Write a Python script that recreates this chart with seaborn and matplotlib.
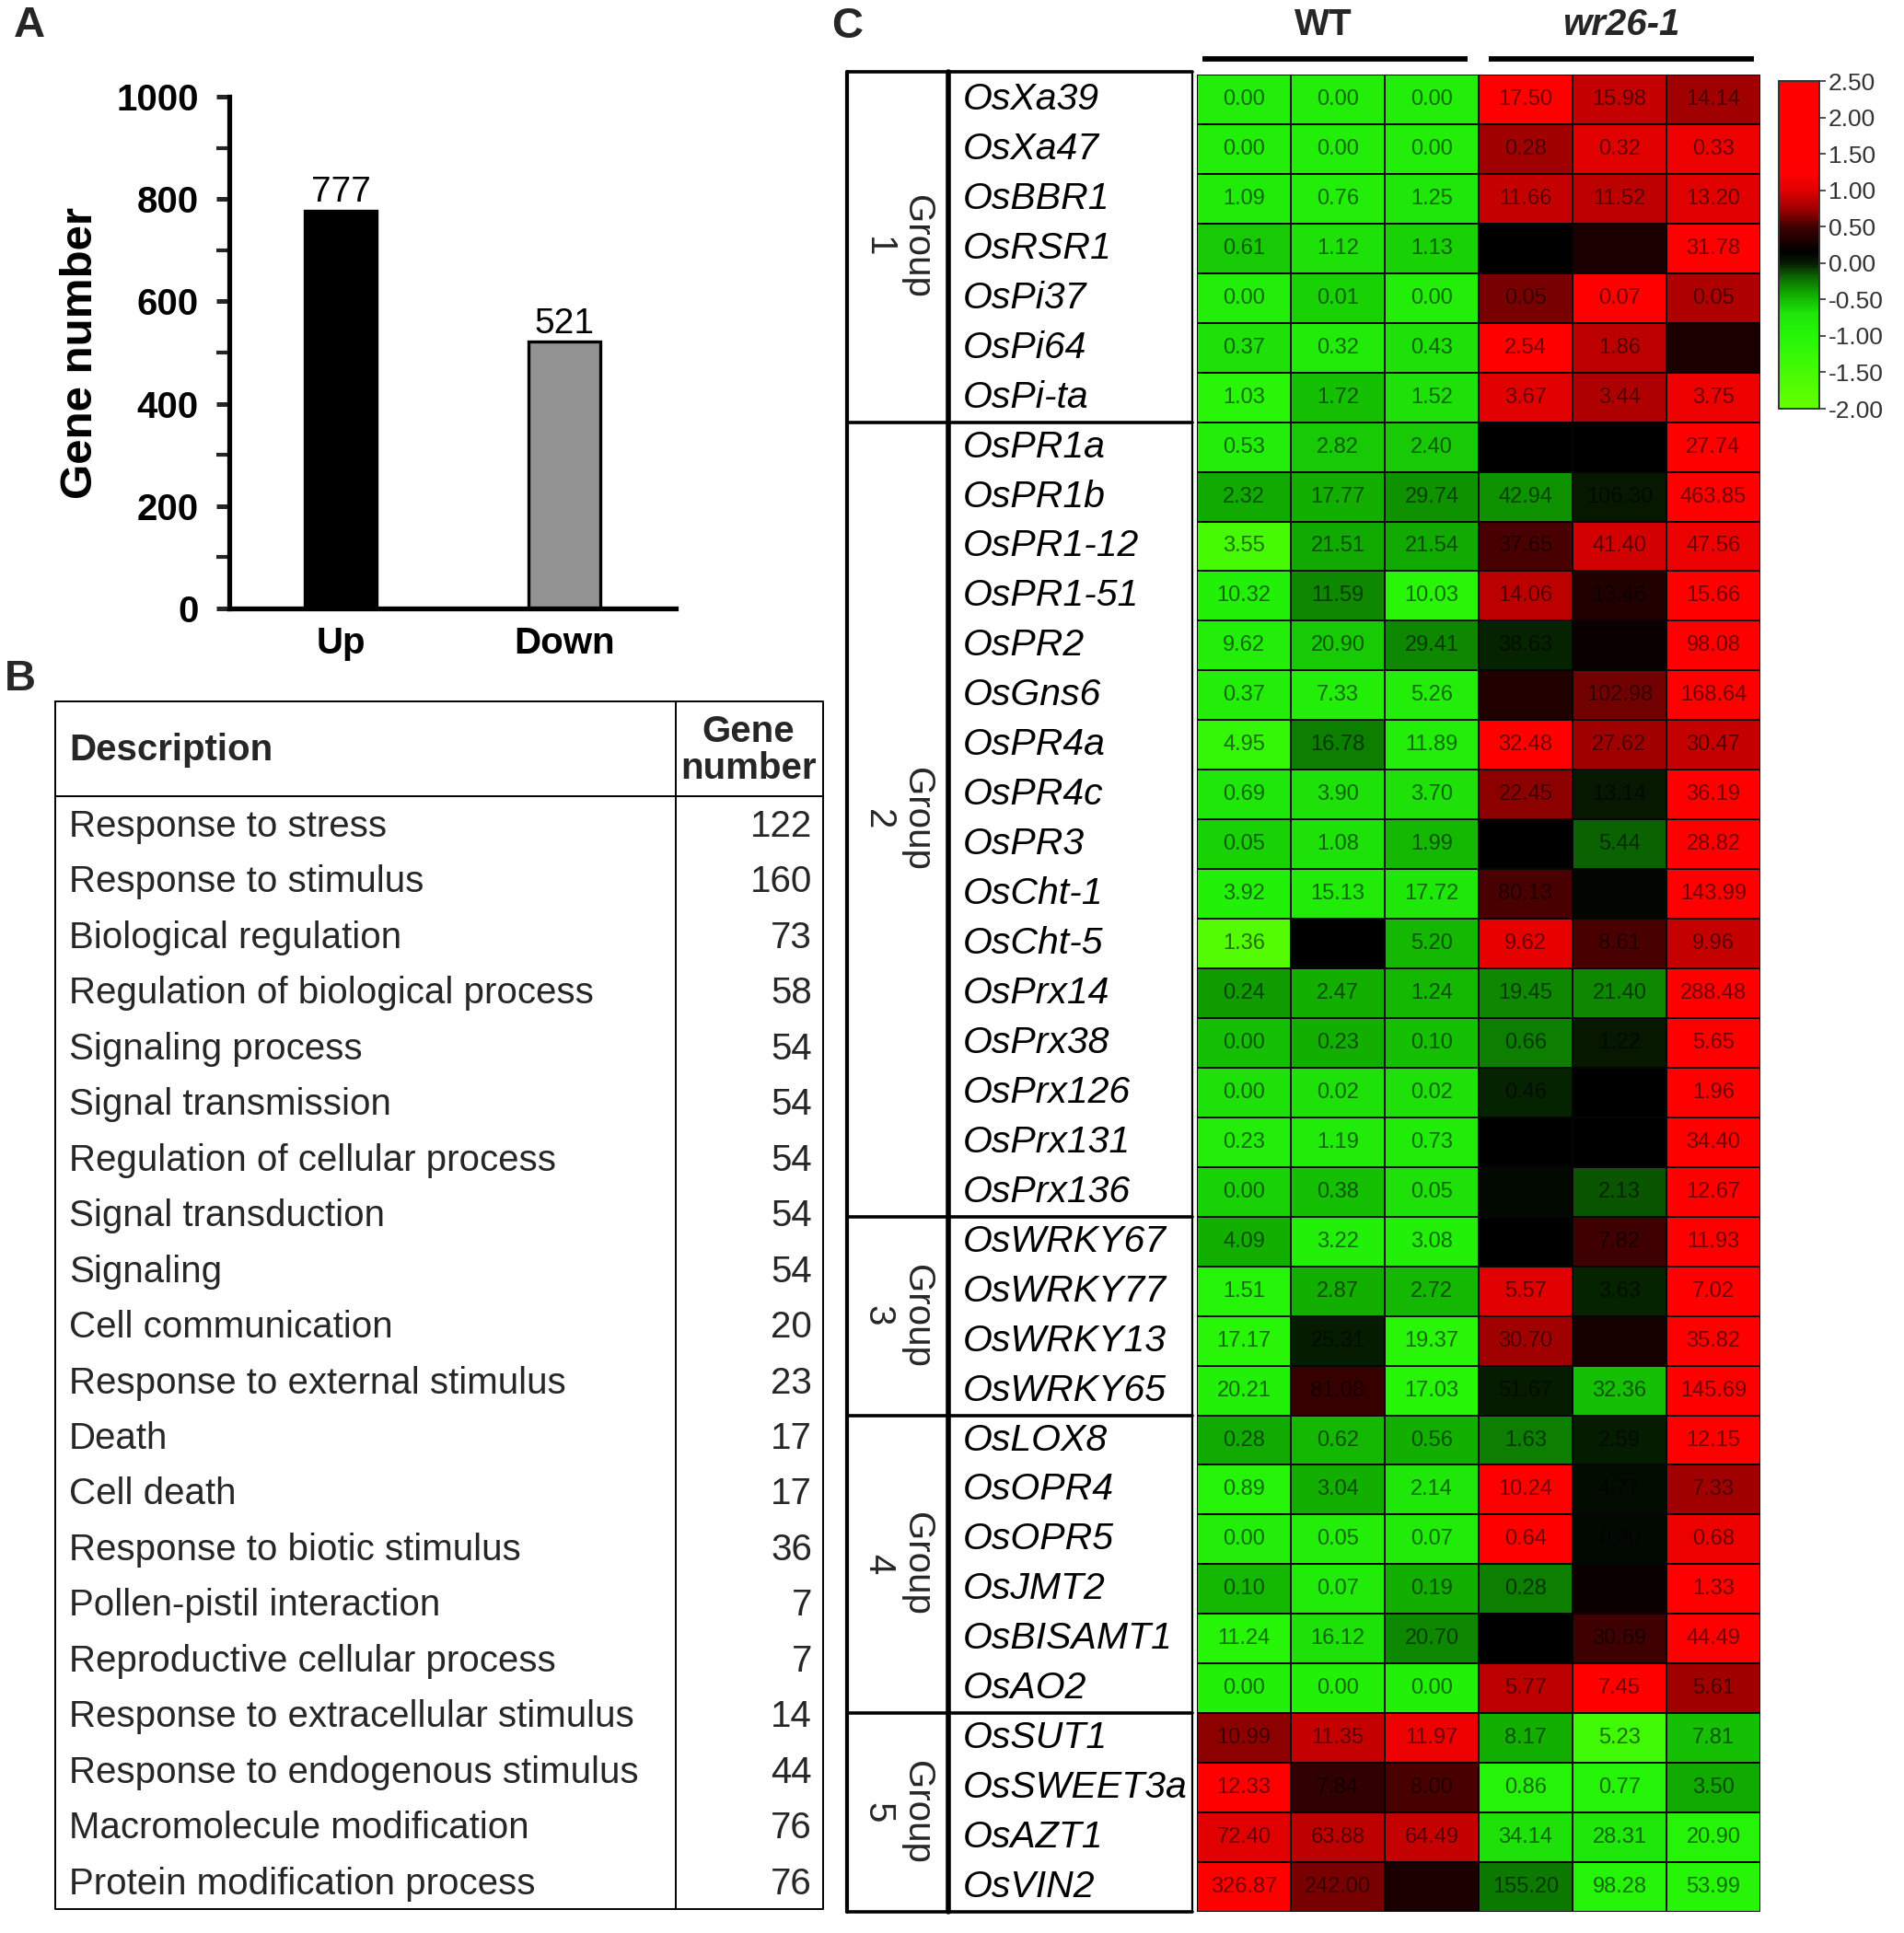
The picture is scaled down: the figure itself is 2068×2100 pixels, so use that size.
import numpy as np
import pandas as pd
import matplotlib.pyplot as plt
from matplotlib.colors import LinearSegmentedColormap
import seaborn as sns

W, H = 2068, 2100

# panel A
direction = ['Up', 'Down']
gene_count = [777, 521]

# panel B
descriptions = ['Response to stress', 'Response to stimulus', 'Biological regulation',
                'Regulation of biological process', 'Signaling process', 'Signal transmission',
                'Regulation of cellular process', 'Signal transduction', 'Signaling',
                'Cell communication', 'Response to external stimulus', 'Death', 'Cell death',
                'Response to biotic stimulus', 'Pollen-pistil interaction',
                'Reproductive cellular process', 'Response to extracellular stimulus',
                'Response to endogenous stimulus', 'Macromolecule modification',
                'Protein modification process']
desc_counts = [122, 160, 73, 58, 54, 54, 54, 54, 54, 20, 23, 17, 17, 36, 7, 7, 14, 44, 76, 76]

# panel C
genes = ['OsXa39', 'OsXa47', 'OsBBR1', 'OsRSR1', 'OsPi37', 'OsPi64', 'OsPi-ta',
         'OsPR1a', 'OsPR1b', 'OsPR1-12', 'OsPR1-51', 'OsPR2', 'OsGns6', 'OsPR4a', 'OsPR4c',
         'OsPR3', 'OsCht-1', 'OsCht-5', 'OsPrx14', 'OsPrx38', 'OsPrx126', 'OsPrx131', 'OsPrx136',
         'OsWRKY67', 'OsWRKY77', 'OsWRKY13', 'OsWRKY65',
         'OsLOX8', 'OsOPR4', 'OsOPR5', 'OsJMT2', 'OsBISAMT1', 'OsAO2',
         'OsSUT1', 'OsSWEET3a', 'OsAZT1', 'OsVIN2']
group_sizes = [7, 16, 4, 6, 4]

# printed expression values, '' where the cell is too dark to read
expr_labels = [
    ['0.00', '0.00', '0.00', '17.50', '15.98', '14.14'],
    ['0.00', '0.00', '0.00', '0.28', '0.32', '0.33'],
    ['1.09', '0.76', '1.25', '11.66', '11.52', '13.20'],
    ['0.61', '1.12', '1.13', '', '', '31.78'],
    ['0.00', '0.01', '0.00', '0.05', '0.07', '0.05'],
    ['0.37', '0.32', '0.43', '2.54', '1.86', ''],
    ['1.03', '1.72', '1.52', '3.67', '3.44', '3.75'],
    ['0.53', '2.82', '2.40', '', '', '27.74'],
    ['2.32', '17.77', '29.74', '42.94', '106.30', '463.85'],
    ['3.55', '21.51', '21.54', '37.65', '41.40', '47.56'],
    ['10.32', '11.59', '10.03', '14.06', '13.46', '15.66'],
    ['9.62', '20.90', '29.41', '38.63', '', '98.08'],
    ['0.37', '7.33', '5.26', '', '102.98', '168.64'],
    ['4.95', '16.78', '11.89', '32.48', '27.62', '30.47'],
    ['0.69', '3.90', '3.70', '22.45', '13.14', '36.19'],
    ['0.05', '1.08', '1.99', '', '5.44', '28.82'],
    ['3.92', '15.13', '17.72', '80.13', '', '143.99'],
    ['1.36', '', '5.20', '9.62', '8.61', '9.96'],
    ['0.24', '2.47', '1.24', '19.45', '21.40', '288.48'],
    ['0.00', '0.23', '0.10', '0.66', '1.22', '5.65'],
    ['0.00', '0.02', '0.02', '0.46', '', '1.96'],
    ['0.23', '1.19', '0.73', '', '', '34.40'],
    ['0.00', '0.38', '0.05', '', '2.13', '12.67'],
    ['4.09', '3.22', '3.08', '', '7.82', '11.93'],
    ['1.51', '2.87', '2.72', '5.57', '3.63', '7.02'],
    ['17.17', '25.31', '19.37', '30.70', '', '35.82'],
    ['20.21', '81.08', '17.03', '51.67', '32.36', '145.69'],
    ['0.28', '0.62', '0.56', '1.63', '2.59', '12.15'],
    ['0.89', '3.04', '2.14', '10.24', '4.77', '7.33'],
    ['0.00', '0.05', '0.07', '0.64', '0.30', '0.68'],
    ['0.10', '0.07', '0.19', '0.28', '', '1.33'],
    ['11.24', '16.12', '20.70', '', '30.69', '44.49'],
    ['0.00', '0.00', '0.00', '5.77', '7.45', '5.61'],
    ['10.99', '11.35', '11.97', '8.17', '5.23', '7.81'],
    ['12.33', '7.84', '8.00', '0.86', '0.77', '3.50'],
    ['72.40', '63.88', '64.49', '34.14', '28.31', '20.90'],
    ['326.87', '242.00', '', '155.20', '98.28', '53.99'],
]

# colour level of each cell, read against the colour bar
expr_levels = [
    [-0.85, -0.85, -0.85, 1.4, 0.9, 0.75],
    [-0.85, -0.85, -0.85, 0.75, 1.0, 1.1],
    [-0.8, -0.85, -0.72, 0.9, 0.85, 1.0],
    [-0.56, -0.67, -0.6, 0.15, 0.3, 1.4],
    [-0.85, -0.6, -0.85, 0.65, 1.4, 0.8],
    [-0.67, -0.8, -0.67, 1.4, 0.85, 0.3],
    [-1.05, -0.52, -0.67, 1.0, 0.8, 1.1],
    [-0.85, -0.56, -0.56, 0.15, 0.15, 1.4],
    [-0.42, -0.45, -0.34, -0.34, 0.02, 1.4],
    [-1.5, -0.42, -0.42, 0.52, 0.95, 1.1],
    [-0.9, -0.3, -1.05, 0.85, 0.33, 1.4],
    [-0.85, -0.56, -0.3, -0.03, 0.2, 1.4],
    [-0.85, -0.85, -0.85, 0.33, 0.62, 1.4],
    [-1.2, -0.27, -0.85, 1.4, 0.75, 0.9],
    [-0.72, -0.67, -0.67, 0.7, 0.02, 1.4],
    [-0.6, -0.67, -0.48, 0.15, -0.18, 1.4],
    [-0.9, -0.8, -0.72, 0.52, 0.12, 1.4],
    [-1.7, 0.15, -0.48, 1.05, 0.52, 0.9],
    [-0.38, -0.45, -0.48, -0.3, -0.3, 1.4],
    [-0.52, -0.45, -0.52, -0.27, 0.02, 1.4],
    [-0.67, -0.67, -0.67, -0.03, 0.15, 1.4],
    [-0.85, -0.8, -0.8, 0.15, 0.15, 1.4],
    [-0.6, -0.52, -0.67, 0.1, -0.14, 1.4],
    [-0.45, -0.9, -0.9, 0.15, 0.48, 1.4],
    [-0.95, -0.45, -0.48, 1.0, -0.03, 1.4],
    [-1.05, 0.0, -1.05, 0.75, 0.28, 1.4],
    [-0.9, 0.45, -1.0, 0.0, -0.52, 1.4],
    [-0.42, -0.48, -0.45, -0.27, 0.0, 1.4],
    [-0.95, -0.45, -0.72, 1.4, 0.08, 0.75],
    [-0.85, -0.85, -0.8, 1.3, 0.1, 1.1],
    [-0.48, -0.8, -0.45, -0.27, 0.2, 1.4],
    [-1.0, -0.67, -0.3, 0.15, 0.48, 1.3],
    [-0.9, -0.9, -0.9, 0.85, 1.3, 0.75],
    [0.7, 0.9, 1.1, -0.45, -1.4, -0.52],
    [1.4, 0.42, 0.52, -0.95, -0.95, -0.42],
    [1.0, 0.85, 0.9, -0.67, -0.72, -0.95],
    [1.3, 0.65, 0.3, -0.25, -0.95, -1.0],
]
samples = ['WT1', 'WT2', 'WT3', 'wr1', 'wr2', 'wr3']
cbar_ticks = [-2.0, -1.5, -1.0, -0.5, 0.0, 0.5, 1.0, 1.5, 2.0, 2.5]

vmin, vmax = -2.0, 2.5
stops = [(-2.0, '#66ff00'), (-1.0, '#26f508'), (-0.7, '#1ee60a'), (-0.45, '#12b000'),
         (-0.2, '#0a6a00'), (0.0, '#061a00'), (0.15, '#000000'), (0.5, '#400000'),
         (0.75, '#a00000'), (1.0, '#e00000'), (1.25, '#ff0000'), (2.5, '#ff0000')]
cmap = LinearSegmentedColormap.from_list(
    'rg', [((v - vmin) / (vmax - vmin), c) for v, c in stops])

sns.set_theme(style='white')
plt.rcParams['font.family'] = ['Liberation Sans', 'DejaVu Sans']


def px_axes(fig, left, top, right, bottom, **kw):
    return fig.add_axes([left / W, 1 - bottom / H, (right - left) / W, (bottom - top) / H], **kw)


fig = plt.figure(figsize=(W / 100, H / 100), dpi=100, facecolor='white')

# overlay in pixel coordinates for frames and free text
ov = px_axes(fig, 0, 0, W, H)
ov.set_xlim(0, W)
ov.set_ylim(H, 0)
ov.axis('off')

ov.text(15, 28, 'A', fontsize=34, fontweight='bold', ha='left', va='center')
ov.text(5, 738, 'B', fontsize=34, fontweight='bold', ha='left', va='center')
ov.text(903, 29, 'C', fontsize=34, fontweight='bold', ha='left', va='center')

# ---- A: bars
ax_a = px_axes(fig, 249, 105, 734, 661)
bars = pd.DataFrame({'direction': direction, 'count': gene_count})
sns.barplot(data=bars, x='direction', y='count', hue='direction', palette=['black', '#939393'],
            saturation=1, width=0.32, edgecolor='black', linewidth=2.4, legend=False, ax=ax_a)
ax_a.set_xlim(-0.5, 1.5)
ax_a.set_ylim(0, 1000)
ax_a.set_yticks(range(0, 1001, 200))
ax_a.set_yticks(range(100, 1000, 200), minor=True)
ax_a.tick_params(axis='y', which='major', length=10, width=3.6, left=True, pad=14, labelsize=29)
ax_a.tick_params(axis='y', which='minor', length=10, width=3, left=True)
ax_a.tick_params(axis='x', length=0, pad=14, labelsize=29)
for lab in ax_a.get_xticklabels() + ax_a.get_yticklabels():
    lab.set_fontweight('bold')
    lab.set_color('black')
ax_a.set_xlabel('')
ax_a.set_ylabel('Gene number', fontsize=35.5, fontweight='bold', labelpad=12, color='black')
for side in ['top', 'right']:
    ax_a.spines[side].set_visible(False)
for side in ['left', 'bottom']:
    ax_a.spines[side].set_linewidth(3.8)
    ax_a.spines[side].set_color('black')
for i, v in enumerate(gene_count):
    ax_a.text(i, v + 3, str(v), fontsize=28, ha='center', va='bottom', color='black')

# ---- B: table
t_left, t_right, t_sep, t_top, t_head, t_bot = 60, 894, 734, 762, 865, 2074
ov.plot([t_left, t_right, t_right, t_left, t_left], [t_top, t_top, t_bot, t_bot, t_top], color='black', lw=1.4)
ov.plot([t_left, t_right], [t_head, t_head], color='black', lw=1.4)
ov.plot([t_sep, t_sep], [t_top, t_bot], color='black', lw=1.4)
ov.text(75, 815, 'Description', fontsize=29, fontweight='bold', va='center', ha='left')
ov.text(813, 815, 'Gene\nnumber', fontsize=29, fontweight='bold', va='center', ha='center', linespacing=1.1)
for i, (d, n) in enumerate(zip(descriptions, desc_counts)):
    y = 898 + i * 60.45
    ov.text(75, y, d, fontsize=29, va='center', ha='left')
    ov.text(882, y, str(n), fontsize=29, va='center', ha='right')

# ---- C: heatmap
hm_left, hm_right, hm_top, hm_bot = 1300, 1912, 81, 2077
ax_c = px_axes(fig, hm_left, hm_top, hm_right, hm_bot)
cax = px_axes(fig, 1932, 88, 1976, 444)
expr_df = pd.DataFrame(expr_levels, index=genes, columns=samples)
sns.heatmap(expr_df, cmap=cmap, vmin=vmin, vmax=vmax, annot=np.array(expr_labels), fmt='',
            annot_kws={'fontsize': 17, 'color': 'black', 'alpha': 0.55, 'family': ['Liberation Sans Narrow', 'Liberation Sans']},
            linewidths=1.3, linecolor='#050505', xticklabels=False, yticklabels=True,
            cbar_ax=cax, cbar_kws={'ticks': cbar_ticks, 'format': '%.2f'}, ax=ax_c)
ax_c.set_xlabel('')
ax_c.set_ylabel('')
ax_c.tick_params(axis='y', length=0, pad=(hm_left - 1046) * 0.72)
for lab in ax_c.get_yticklabels():
    lab.set_rotation(0)
    lab.set_ha('left')
    lab.set_fontstyle('italic')
    lab.set_fontsize(29.5)
    lab.set_color('black')

cbar = ax_c.collections[0].colorbar
cbar.outline.set_linewidth(1.4)
cbar.outline.set_edgecolor('#333333')
cax.tick_params(axis='y', length=5, width=1.2, color='#333333', labelsize=19,
                labelcolor='#333333', pad=2, right=True)

# group frame
b_left, b_div, b_right, b_top = 920, 1030, 1295, 78
row_h = (hm_bot - hm_top) / len(genes)
edges = [b_top]
n = 0
for size in group_sizes:
    n += size
    edges.append(hm_top + n * row_h)
ov.plot([b_left, b_left], [edges[0], edges[-1]], color='black', lw=3)
ov.plot([b_div, b_div], [edges[0], edges[-1]], color='black', lw=4)
ov.plot([b_right, b_right], [edges[0], edges[-1]], color='black', lw=1.6)
for y in edges:
    ov.plot([b_left, b_right], [y, y], color='black', lw=2.6)
for g in range(len(group_sizes)):
    ov.text(975, (edges[g] + edges[g + 1]) / 2, 'Group\n%d' % (g + 1), rotation=-90, fontsize=29,
            ha='center', va='center', multialignment='center', linespacing=1.15)

# sample headers
ov.plot([1306, 1594], [64, 64], color='black', lw=4.2, solid_capstyle='butt')
ov.plot([1617, 1905], [64, 64], color='black', lw=4.2, solid_capstyle='butt')
ov.text(1437, 27, 'WT', fontsize=29, fontweight='bold', ha='center', va='center')
ov.text(1761, 27, 'wr26-1', fontsize=29, fontweight='bold', fontstyle='italic', ha='center', va='center')

fig.savefig('out.png', dpi=100)
